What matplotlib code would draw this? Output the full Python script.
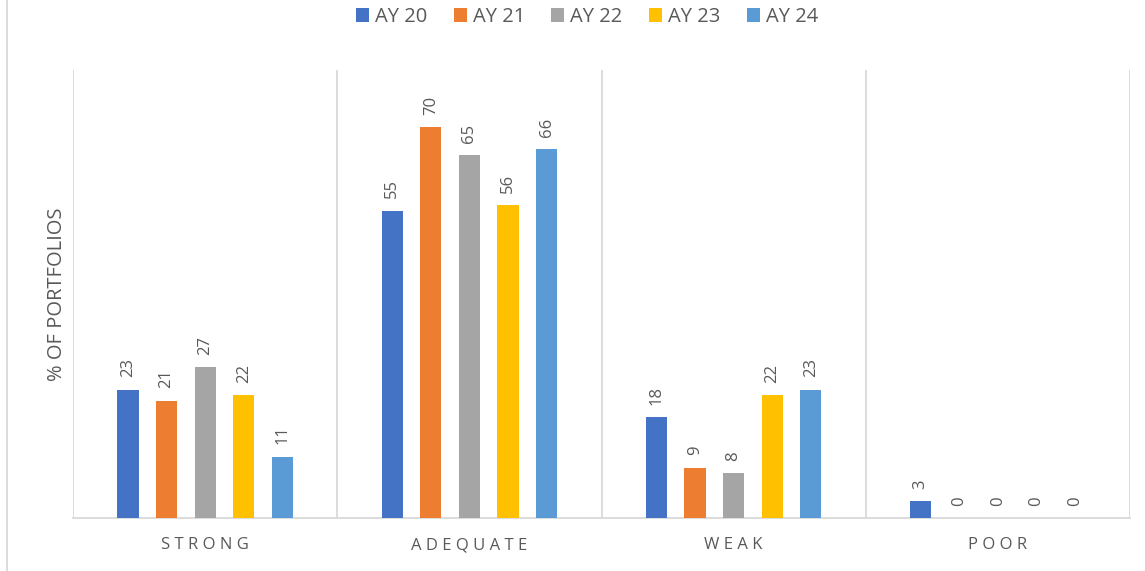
import matplotlib.pyplot as plt
import numpy as np
from matplotlib.lines import Line2D

plt.rcParams['font.family'] = ['Open Sans', 'DejaVu Sans']

categories = ["STRONG", "ADEQUATE", "WEAK", "POOR"]
series_names = ["AY 20", "AY 21", "AY 22", "AY 23", "AY 24"]
ay20 = [23, 55, 18, 3]
ay21 = [21, 70, 9, 0]
ay22 = [27, 65, 8, 0]
ay23 = [22, 56, 22, 0]
ay24 = [11, 66, 23, 0]
colors = ["#4472C4", "#ED7D31", "#A5A5A5", "#FFC000", "#5B9BD5"]

TEXT = "#595959"
GRID = "#D9D9D9"

fig = plt.figure(figsize=(11.45, 5.71), dpi=100)
ax = fig.add_axes([73 / 1145, 53 / 571, (1130 - 73) / 1145, (518 - 70) / 571])

x = np.arange(len(categories))
step = 0.146
width = 0.08
for i, (name, vals, c) in enumerate(zip(series_names, [ay20, ay21, ay22, ay23, ay24], colors)):
    pos = x + (i - 2) * step
    ax.bar(pos, vals, width=width, color=c, label=name, zorder=3)
    for p, v in zip(pos, vals):
        ax.text(p, v + 2.2, str(v), rotation=90, ha="center", va="bottom",
                fontsize=12, color=TEXT)

ax.set_xlim(-0.5, len(categories) - 0.5)
ax.set_ylim(0, 80.2)
ax.set_yticks([])
ax.set_xticks(x)
ax.set_xticklabels([" ".join(c) for c in categories], fontsize=12, color=TEXT)
ax.tick_params(axis="x", length=0, pad=14)

# vertical lines between categories
for b in np.arange(-0.5, len(categories), 1.0):
    ax.axvline(b, color=GRID, linewidth=1.3, zorder=1)

for s in ["top", "left", "right"]:
    ax.spines[s].set_visible(False)
ax.spines["bottom"].set_color(GRID)
ax.spines["bottom"].set_linewidth(1.3)

ax.set_ylabel("% OF PORTFOLIOS", fontsize=14.5, color=TEXT, labelpad=4)

ax.legend(loc="center", bbox_to_anchor=(587 / 1145, 1 - 17 / 571), bbox_transform=fig.transFigure,
          ncol=5, frameon=False, fontsize=14.5, handlelength=0.65, handleheight=0.7,
          handletextpad=0.3, columnspacing=1.3, labelcolor=TEXT)

fig.add_artist(Line2D([7 / 1145, 7 / 1145], [0, 1], transform=fig.transFigure,
                      color=GRID, linewidth=1.3))

fig.savefig("out.png", dpi=100, facecolor="white")
